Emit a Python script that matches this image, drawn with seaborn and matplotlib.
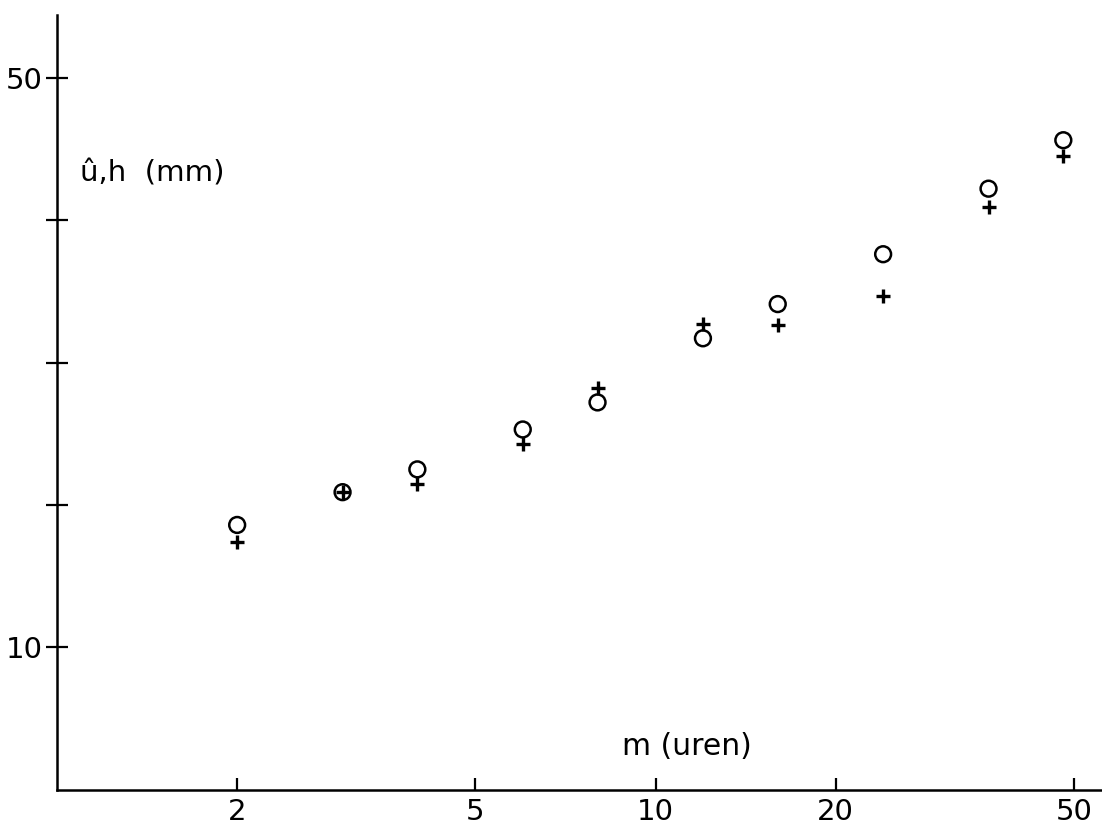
import numpy as np
import pandas as pd
import matplotlib
matplotlib.use("Agg")
import matplotlib.pyplot as plt
import seaborn as sns

# data
m_hours = [2, 3, 4, 6, 8, 12, 16, 24, 36, 48]
u_hat = [18.6, 20.9, 22.5, 25.3, 27.2, 31.7, 34.1, 37.6, 42.2, 45.6]
h_vals = [17.4, 20.9, 21.5, 24.3, 28.2, 32.7, 32.6, 34.7, 40.9, 44.5]
x_ticks = [2, 5, 10, 20, 50]
x_ticklabels = ["2", "5", "10", "20", "50"]
y_ticks = [10, 20, 30, 40, 50]
y_ticklabels = ["10", "", "", "", "50"]

sns.set_style("white")
plt.rcParams["font.family"] = ["DejaVu Sans"]
plt.rcParams["text.color"] = "black"
plt.rcParams["xtick.color"] = "black"
plt.rcParams["ytick.color"] = "black"

df_u = pd.DataFrame({"m": m_hours, "v": u_hat})
df_h = pd.DataFrame({"m": m_hours, "v": h_vals})

fig = plt.figure(figsize=(11.02, 8.38), dpi=100)
ax = fig.add_axes([0.0517, 0.0573, 0.9483, 0.925])

sns.scatterplot(data=df_u, x="m", y="v", ax=ax, marker="o", s=130,
                facecolor="none", edgecolor="black", linewidth=1.8, zorder=3)
sns.scatterplot(data=df_h, x="m", y="v", ax=ax, marker="+", s=110,
                color="black", linewidth=2.4, zorder=4)

ax.set_xscale("log")
ax.set_xlim(1, 55.7)
ax.set_ylim(0, 54.4)
ax.minorticks_off()
ax.set_xticks(x_ticks)
ax.set_xticklabels(x_ticklabels)
ax.set_yticks(y_ticks)
ax.set_yticklabels(y_ticklabels)
ax.tick_params(axis="x", bottom=True, direction="in", length=9, width=1.6,
               labelsize=21, pad=6, colors="black")
ax.tick_params(axis="y", left=True, direction="inout", length=16, width=1.6,
               labelsize=21, pad=2, colors="black")
ax.set_xlabel("")
ax.set_ylabel("")

for s in ["top", "right"]:
    ax.spines[s].set_visible(False)
for s in ["left", "bottom"]:
    ax.spines[s].set_linewidth(1.8)
    ax.spines[s].set_color("black")

ax.text(0.022, 0.785, "û,h  (mm)", transform=ax.transAxes, fontsize=21,
        ha="left", va="baseline", color="black")
ax.text(0.5407, 0.045, "m (uren)", transform=ax.transAxes, fontsize=21.5,
        ha="left", va="baseline", color="black")

fig.savefig("out.png", dpi=100)
